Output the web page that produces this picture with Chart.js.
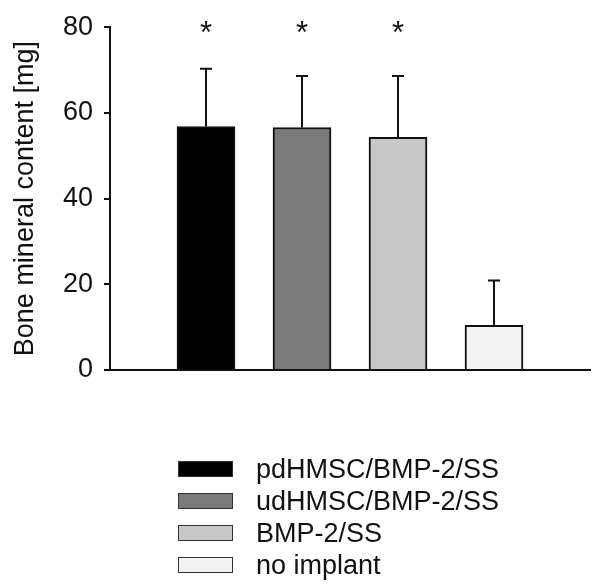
<!DOCTYPE html>
<html>
<head>
<meta charset="utf-8">
<script src="https://cdn.jsdelivr.net/npm/chart.js@4"></script>
<style>
  html, body { margin: 0; padding: 0; background: #fff; }
  #wrap { position: relative; width: 602px; height: 586px; }
  #legend {
    position: absolute; left: 178px; top: 453px;
    font-family: "Liberation Sans", Arial, sans-serif; font-size: 27px; color: #111;
  }
  .row { display: flex; align-items: center; height: 32px; }
  .box { width: 53px; height: 14px; border: 1px solid #333; margin-right: 23px; }
</style>
</head>
<body>
<div id="wrap">
  <canvas id="bmc" width="602" height="586"></canvas>
  <div id="legend"></div>
</div>
<script>
const categories = ['pdHMSC/BMP-2/SS', 'udHMSC/BMP-2/SS', 'BMP-2/SS', 'no implant'];
const means = [56.8, 56.6, 54.3, 10.4];
const sds = [13.5, 12.0, 14.3, 10.5];
const significant = [true, true, true, false];
const yTicks = [0, 20, 40, 60, 80];
const colors = ['#000000', '#7a7a7a', '#c8c8c8', '#f2f2f2'];

const FONT = '"Liberation Sans", Arial, sans-serif';

// error bars (upper only) + asterisks
const extras = {
  id: 'extras',
  afterDatasetsDraw(chart){
    const ctx = chart.ctx;
    const x = chart.scales.x, y = chart.scales.y;
    ctx.save();
    ctx.strokeStyle = '#111';
    ctx.lineWidth = 2;
    means.forEach((m, i) => {
      const px = x.getPixelForValue(i + 1);
      const top = y.getPixelForValue(m + sds[i]);
      ctx.beginPath();
      ctx.moveTo(px, y.getPixelForValue(m));
      ctx.lineTo(px, top);
      ctx.moveTo(px - 6, top);
      ctx.lineTo(px + 6, top);
      ctx.stroke();
      if (significant[i]) {
        ctx.fillStyle = '#111';
        ctx.font = '31px ' + FONT;
        ctx.textAlign = 'center';
        ctx.textBaseline = 'alphabetic';
        ctx.fillText('*', px, y.getPixelForValue(80) + 16);
      }
    });
    ctx.restore();
  }
};

new Chart(document.getElementById('bmc'), {
  type: 'bar',
  data: {
    datasets: [{
      data: means.map((v, i) => ({x: i + 1, y: v})),
      backgroundColor: colors,
      borderColor: '#111',
      borderWidth: 2,
      borderSkipped: 'bottom',
      barThickness: 58
    }]
  },
  options: {
    responsive: false,
    animation: false,
    layout: { padding: { left: 6, top: 23, right: 12, bottom: 216 } },
    plugins: { legend: { display: false }, tooltip: { enabled: false } },
    scales: {
      x: {
        type: 'linear',
        offset: false,
        min: 0, max: 5,
        ticks: { display: false },
        grid: { display: false, drawTicks: false },
        border: { display: true, color: '#111', width: 2 }
      },
      y: {
        min: 0, max: 80,
        afterBuildTicks(scale){ scale.ticks = yTicks.map(v => ({value: v})); },
        afterFit(scale){ scale.width = 104; },
        ticks: { color: '#111', padding: 11, font: { family: FONT, size: 27 } },
        grid: { drawOnChartArea: false, drawTicks: true, tickLength: 6, color: '#111', lineWidth: 2 },
        border: { display: true, color: '#111', width: 2 },
        title: {
          display: true,
          text: 'Bone mineral content [mg]',
          color: '#111',
          font: { family: FONT, size: 27 },
          padding: { top: 3, bottom: 4 }
        }
      }
    }
  },
  plugins: [extras]
});

// legend, one entry per row
const legend = document.getElementById('legend');
categories.forEach((c, i) => {
  const row = document.createElement('div');
  row.className = 'row';
  const box = document.createElement('span');
  box.className = 'box';
  box.style.background = colors[i];
  const label = document.createElement('span');
  label.textContent = c;
  row.appendChild(box);
  row.appendChild(label);
  legend.appendChild(row);
});
</script>
</body>
</html>
